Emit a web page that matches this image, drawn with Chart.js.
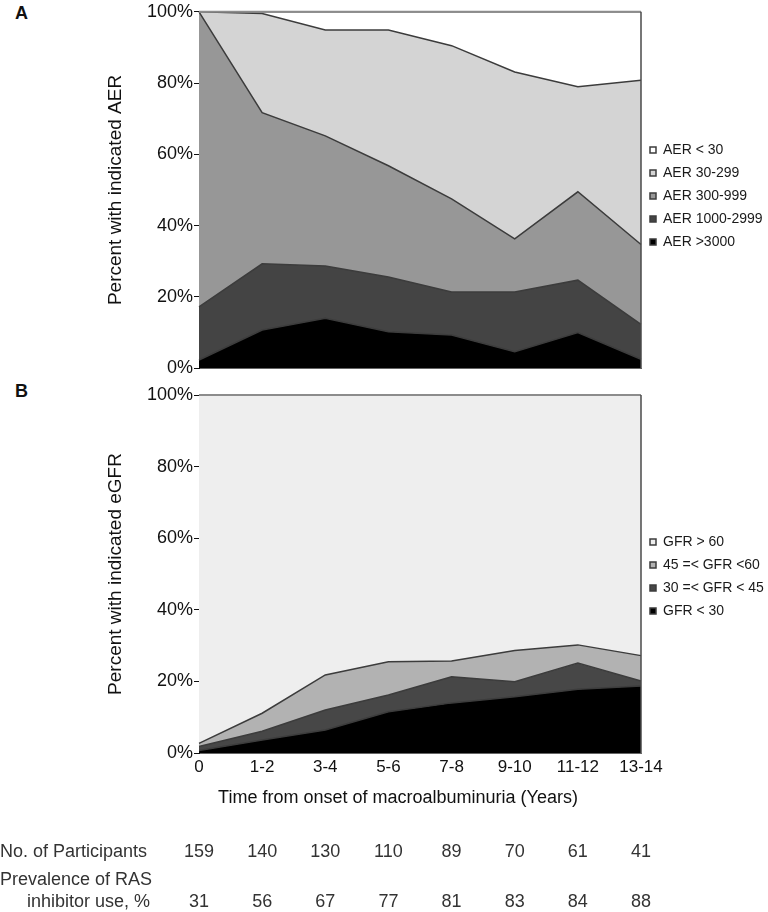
<!DOCTYPE html>
<html>
<head>
<meta charset="utf-8">
<script src="https://cdn.jsdelivr.net/npm/chart.js@4.4.1/dist/chart.umd.min.js"></script>
<style>
  body { margin: 0; background: #fff; }
  #page { position: relative; width: 768px; height: 912px; overflow: hidden; }
  .panel { position: absolute; left: 0; }
  .tag { position: absolute; left: 15px; font: bold 18px "Liberation Sans", Arial, sans-serif; line-height: 18px; color: #111; }
</style>
</head>
<body>
<div id="page">
  <div class="tag" style="top:4px">A</div>
  <div class="tag" style="top:382px">B</div>
  <canvas id="aer-chart" class="panel" style="top:0" width="768" height="380"></canvas>
  <canvas id="gfr-chart" class="panel" style="top:380px" width="768" height="532"></canvas>
</div>
<script>
// years since onset of macroalbuminuria
const periods = ["0", "1-2", "3-4", "5-6", "7-8", "9-10", "11-12", "13-14"];

// panel A, % of participants in each AER class
const aerOver3000 = [2.3, 10.7, 14.0, 10.2, 9.3, 4.6, 10.0, 2.5];
const aer1000to2999 = [14.9, 18.6, 14.7, 15.4, 12.1, 16.8, 14.7, 9.8];
const aer300to999 = [82.8, 42.4, 36.5, 31.2, 26.1, 14.9, 24.8, 22.4];
const aer30to299 = [0.0, 27.8, 29.7, 38.1, 43.0, 46.8, 29.5, 46.1];
const aerUnder30 = [0.0, 0.5, 5.1, 5.1, 9.5, 16.9, 21.0, 19.2];

// panel B, % of participants in each eGFR class
const gfrUnder30 = [0.7, 3.6, 6.4, 11.5, 14.0, 15.7, 17.8, 18.7];
const gfr30to45 = [1.1, 2.5, 5.6, 4.7, 7.3, 4.2, 7.3, 1.4];
const gfr45to60 = [0.9, 5.0, 9.8, 9.3, 4.4, 8.7, 5.1, 7.1];
const gfrOver60 = [97.3, 88.9, 78.2, 74.5, 74.3, 71.4, 69.8, 72.8];

// table under the x axis
const participants = [159, 140, 130, 110, 89, 70, 61, 41];
const rasPrevalence = [31, 56, 67, 77, 81, 83, 84, 88];

const FONT = '"Liberation Sans", Arial, sans-serif';
const EDGE = "#3c3c3c";

function layer(label, data, color, first) {
  return {
    label: label,
    data: data,
    backgroundColor: color,
    borderColor: EDGE,
    borderWidth: 1.5,
    pointRadius: 0,
    tension: 0,
    fill: first ? "origin" : "-1",
  };
}

// grey line on top, dark line on the right of the plot
const frame = {
  id: "frame",
  afterDatasetsDraw(chart) {
    const { ctx, chartArea: a } = chart;
    ctx.save();
    ctx.strokeStyle = "#8c8c8c";
    ctx.lineWidth = 2;
    ctx.beginPath();
    ctx.moveTo(a.left, a.top);
    ctx.lineTo(a.right, a.top);
    ctx.stroke();
    ctx.strokeStyle = "#4a4a4a";
    ctx.lineWidth = 1.5;
    ctx.beginPath();
    ctx.moveTo(a.right, a.top);
    ctx.lineTo(a.right, a.bottom);
    ctx.stroke();
    ctx.restore();
  },
};

// legendGap: empty legend title height, pushes the legend rows down
function options(yTitle, showX, bottomPad, topPad, xHeight, legendGap) {
  return {
    responsive: false,
    animation: false,
    layout: { padding: { left: 104, right: 0, top: topPad, bottom: bottomPad } },
    scales: {
      x: {
        grid: { display: false, drawTicks: false },
        border: { display: true, color: "#666", width: 1 },
        ticks: {
          display: showX,
          padding: 4,
          color: "#111",
          font: { family: FONT, size: 17 },
          maxRotation: 0,
          autoSkip: false,
        },
        afterFit(scale) {
          scale.height = xHeight;
        },
      },
      y: {
        stacked: true,
        min: 0,
        max: 100,
        ticks: {
          stepSize: 20,
          padding: 1,
          color: "#111",
          font: { family: FONT, size: 18 },
          callback: (v) => v + "%",
        },
        grid: { drawOnChartArea: false, drawTicks: true, tickLength: 5, color: "#111" },
        border: { display: true, color: "#111", width: 1 },
        title: {
          display: true,
          text: yTitle,
          padding: 0,
          color: "#111",
          font: { family: FONT, size: 19 },
        },
        afterFit(scale) {
          scale.width = 95;
        },
      },
    },
    plugins: {
      tooltip: { enabled: false },
      legend: {
        position: "right",
        align: "start",
        reverse: true,
        maxWidth: 127,
        title: {
          display: true,
          text: "",
          font: { size: 10 },
          padding: { top: legendGap - 12, bottom: 0 },
        },
        labels: {
          boxWidth: 6,
          boxHeight: 6,
          padding: 9,
          color: "#1a1a1a",
          font: { family: FONT, size: 14 },
        },
      },
    },
  };
}

new Chart(document.getElementById("aer-chart"), {
  type: "line",
  data: {
    labels: periods,
    datasets: [
      layer("AER >3000", aerOver3000, "#000000", true),
      layer("AER 1000-2999", aer1000to2999, "#444444"),
      layer("AER 300-999", aer300to999, "#979797"),
      layer("AER 30-299", aer30to299, "#d4d4d4"),
      layer("AER < 30", aerUnder30, "#ffffff"),
    ],
  },
  options: options("Percent with indicated AER", false, 10, 11, 0, 123),
  plugins: [frame],
});

// x title and the participants / RAS table, columns follow the x scale
const cohortTable = {
  id: "cohortTable",
  afterDraw(chart) {
    const { ctx } = chart;
    const x = chart.scales.x;
    ctx.save();
    ctx.fillStyle = "#111";
    ctx.textBaseline = "middle";
    ctx.textAlign = "center";
    ctx.font = "18px " + FONT;
    ctx.fillText("Time from onset of macroalbuminuria (Years)", 398, 418);

    ctx.fillStyle = "#333";
    ctx.textAlign = "left";
    ctx.fillText("No. of Participants", 0, 472);
    ctx.fillText("Prevalence of RAS", 0, 500);
    ctx.textAlign = "right";
    ctx.fillText("inhibitor use, %", 150, 522);
    ctx.textAlign = "center";
    periods.forEach((p, i) => {
      const px = x.getPixelForValue(i);
      ctx.fillText(String(participants[i]), px, 472);
      ctx.fillText(String(rasPrevalence[i]), px, 522);
    });
    ctx.restore();
  },
};

new Chart(document.getElementById("gfr-chart"), {
  type: "line",
  data: {
    labels: periods,
    datasets: [
      layer("GFR < 30", gfrUnder30, "#000000", true),
      layer("30 =< GFR < 45", gfr30to45, "#474747"),
      layer("45 =< GFR <60", gfr45to60, "#b2b2b2"),
      layer("GFR > 60", gfrOver60, "#eeeeee"),
    ],
  },
  options: options("Percent with indicated eGFR", true, 139, 15, 20, 131),
  plugins: [frame, cohortTable],
});
</script>
</body>
</html>
